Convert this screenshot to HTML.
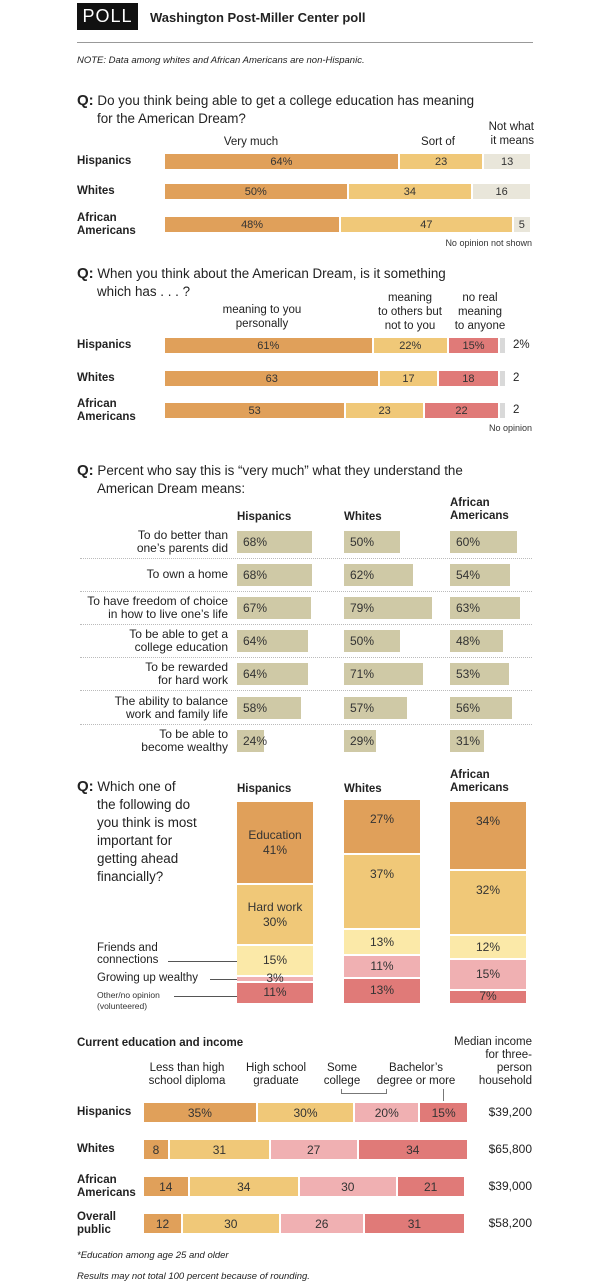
<!DOCTYPE html>
<html><head><meta charset="utf-8">
<style>
body{margin:0;width:606px;height:1287px;background:#fff;position:relative;overflow:hidden;font-family:"Liberation Sans",sans-serif;color:#222}
.a{position:absolute;white-space:nowrap}
.q{font-size:13.4px;line-height:18px}
.q b{font-size:15px}
.lab{font-size:11.5px;font-weight:bold;line-height:13px}
.hd{font-size:11.5px;line-height:14px;text-align:center}
.sm{font-size:9px;color:#333}
.bar{position:absolute;font-size:11px;color:#333;display:flex;align-items:center;justify-content:center;box-sizing:border-box}
.dot{position:absolute;left:80px;width:452px;border-top:1px dotted #bbb;height:0}
</style></head><body>
<div class="a" style="left:77px;top:3px;width:61px;height:27px;background:#111;color:#fff;font-size:18px;line-height:27px;text-align:center;letter-spacing:1px">POLL</div>
<div class="a" style="left:150px;top:10px;font-size:13px;font-weight:bold">Washington Post-Miller Center poll</div>
<div class="a" style="left:77px;top:42px;width:456px;height:1px;background:#999"></div>
<div class="a" style="left:77px;top:55px;font-size:9.5px;font-style:italic">NOTE: Data among whites and African Americans are non-Hispanic.</div>

<div class="a q" style="left:77px;top:92px"><b>Q:</b> Do you think being able to get a college education has meaning<br><span style="padding-left:20px">for the American Dream?</span></div>
<div class="a hd" style="left:211px;top:135px;width:80px">Very much</div>
<div class="a hd" style="left:408px;top:135px;width:60px">Sort of</div>
<div class="a hd" style="left:472px;top:120px;width:62px;text-align:right">Not what<br>it means</div>
<div class="a sm" style="right:74px;top:238px">No opinion not shown</div>

<div class="a q" style="left:77px;top:265px"><b>Q:</b> When you think about the American Dream, is it something<br><span style="padding-left:20px">which has . . . ?</span></div>
<div class="a hd" style="left:202px;top:303px;width:120px">meaning to you<br>personally</div>
<div class="a hd" style="left:362px;top:291px;width:96px">meaning<br>to others but<br>not to you</div>
<div class="a hd" style="left:440px;top:291px;width:80px">no real<br>meaning<br>to anyone</div>
<div class="a sm" style="right:74px;top:423px">No opinion</div>

<div class="a q" style="left:77px;top:462px"><b>Q:</b> Percent who say this is “very much” what they understand the<br><span style="padding-left:20px">American Dream means:</span></div>

<div class="a q" style="left:77px;top:778px"><b>Q:</b> Which one of<br><span style="padding-left:20px">the following do</span><br><span style="padding-left:20px">you think is most</span><br><span style="padding-left:20px">important for</span><br><span style="padding-left:20px">getting ahead</span><br><span style="padding-left:20px">financially?</span></div>
<div class="a" style="left:97px;top:942px;font-size:11.5px;line-height:12px">Friends and<br>connections</div>
<div class="a" style="left:97px;top:972px;font-size:11.5px">Growing up wealthy</div>
<div class="a sm" style="left:97px;top:990px;font-size:8.5px;line-height:11px">Other/no opinion<br>(volunteered)</div>
<div class="a" style="left:168px;top:961px;width:69px;height:1px;background:#555"></div>
<div class="a" style="left:210px;top:979px;width:27px;height:1px;background:#555"></div>
<div class="a" style="left:174px;top:996px;width:63px;height:1px;background:#555"></div>

<div class="a" style="left:77px;top:1037px;font-size:11.5px;font-weight:bold">Current education and income</div>
<div class="a hd" style="left:432px;top:1036px;width:100px;text-align:right;line-height:13px">Median income<br>for three-<br>person<br>household</div>
<div class="a hd" style="left:132px;top:1062px;width:110px;line-height:13px">Less than high<br>school diploma</div>
<div class="a hd" style="left:236px;top:1062px;width:80px;line-height:13px">High school<br>graduate</div>
<div class="a hd" style="left:312px;top:1062px;width:60px;line-height:13px">Some<br>college</div>
<div class="a hd" style="left:366px;top:1062px;width:100px;line-height:13px">Bachelor’s<br>degree or more</div>
<div class="a" style="left:341px;top:1089px;width:46px;height:5px;border-left:1px solid #777;border-bottom:1px solid #777;border-right:1px solid #777;box-sizing:border-box"></div>
<div class="a" style="left:443px;top:1089px;width:1px;height:12px;background:#777"></div>
<div class="a" style="left:77px;top:1250px;font-size:9.5px;font-style:italic">*Education among age 25 and older</div>
<div class="a" style="left:77px;top:1271px;font-size:9.5px;font-style:italic">Results may not total 100 percent because of rounding.</div>

<script>
const groups1=["Hispanics","Whites","African Americans"];
const q1Very=[64,50,48];
const q1Sort=[23,34,47];
const q1Not=[13,16,5];
const q1Labels=[["64%","23","13"],["50%","34","16"],["48%","47","5"]];
const q2Personal=[61,63,53];
const q2Others=[22,17,23];
const q2None=[15,18,22];
const q2NoOp=[2,2,2];
const q2Labels=[["61%","22%","15%","2%"],["63","17","18","2"],["53","23","22","2"]];
const q3Items=["To do better than|one’s parents did","To own a home","To have freedom of choice|in how to live one’s life","To be able to get a|college education","To be rewarded|for hard work","The ability to balance|work and family life","To be able to|become wealthy"];
const q3Hisp=[68,68,67,64,64,58,24];
const q3White=[50,62,79,50,71,57,29];
const q3AA=[60,54,63,48,53,56,31];
const q4Cats=["Education","Hard work","Friends and connections","Growing up wealthy","Other/no opinion"];
const q4Hisp=[41,30,15,3,11];
const q4White=[27,37,13,11,13];
const q4AA=[34,32,12,15,7];
const q5Groups=["Hispanics","Whites","African Americans","Overall public"];
const q5Less=[35,8,14,12];
const q5HS=[30,31,34,30];
const q5Some=[20,27,30,26];
const q5BA=[15,34,21,31];
const q5Income=["$39,200","$65,800","$39,000","$58,200"];

const B=document.body;
function mk(cls){const d=document.createElement('div');d.className=cls;B.appendChild(d);return d;}
function st(d,o){for(const k in o)d.style[k]=o[k];}
function lbl(name,y,h){const d=mk('a lab');


const two=name.split(' ');st(d,{left:'77px',top:(y+h/2-(two.length>1?13:6.5))+'px'});d.innerHTML=two.join('<br>');}

// Q1
const c1=['#e0a05a','#f0c878','#e9e6da'];
const x1=v=>v*3.67;
const y1=[154,184,217];
groups1.forEach((g,i)=>{lbl(g,y1[i],15);let x=165;[q1Very[i],q1Sort[i],q1Not[i]].forEach((v,j)=>{const d=mk('bar');


st(d,{left:x+'px',top:y1[i]+'px',width:(x1(v)-2)+'px',height:'15px',background:c1[j]});d.textContent=q1Labels[i][j];x+=x1(v);});});

// Q2
const c2=['#e0a05a','#f0c878','#e07a78','#d9d9d9'];
const x2=v=>v*3.42;
const y2=[338,371,403];
groups1.forEach((g,i)=>{lbl(g,y2[i],15);let x=165;[q2Personal[i],q2Others[i],q2None[i],q2NoOp[i]].forEach((v,j)=>{const d=mk('bar');


st(d,{left:x+'px',top:y2[i]+'px',width:(x2(v)-2)+'px',height:'15px',background:c2[j]});if(j<3)d.textContent=q2Labels[i][j];x+=x2(v);});
const t=mk('a');


st(t,{left:(x+6)+'px',top:(y2[i]+1)+'px',fontSize:'11.5px'});t.textContent=q2Labels[i][3];});

// Q3
const hx=[237,344,450];
["Hispanics","Whites","African Americans"].forEach((g,k)=>{const d=mk('a lab');


st(d,{left:hx[k]+'px',top:(k==2?497:511)+'px'});d.innerHTML=g.replace(' ','<br>');});
const x3=v=>v*1.11;
q3Items.forEach((it,r)=>{const yc=542+r*33.1;const d=mk('a');


const parts=it.split('|');st(d,{right:(606-228)+'px',top:(yc-(parts.length>1?13:7))+'px',fontSize:'12px',lineHeight:'13px',textAlign:'right'});d.innerHTML=parts.join('<br>');
[q3Hisp,q3White,q3AA].forEach((arr,k)=>{const b=mk('bar');


st(b,{left:hx[k]+'px',top:(yc-11)+'px',width:x3(arr[r])+'px',height:'22px',background:'#cfc9a6',justifyContent:'flex-start',paddingLeft:'6px',fontSize:'12px'});b.textContent=arr[r]+'%';});
if(r<q3Items.length-1){const l=mk('dot');


st(l,{top:(yc+16)+'px'});}});

// Q4
const c4=['#e0a05a','#f0c878','#fbe9a8','#f0b0b2','#e07a78'];
const y4=v=>v*2.03;
["Hispanics","Whites","African Americans"].forEach((g,k)=>{const d=mk('a lab');


st(d,{left:hx[k]+'px',top:(k==2?769:783)+'px'});d.innerHTML=g.replace(' ','<br>');});
[q4Hisp,q4White,q4AA].forEach((arr,k)=>{const tot=arr.reduce((a,b)=>a+b,0);let y=1005-y4(tot);arr.forEach((v,j)=>{const b=mk('bar');


const h=y4(v);st(b,{left:hx[k]+'px',top:y+'px',width:'76px',height:(h-2)+'px',background:c4[j],fontSize:'12px',textAlign:'center',lineHeight:'15px'});
b.innerHTML=(k==0&&j<2?q4Cats[j]+'<br>':'')+v+'%';
if(v<5)st(b,{overflow:'visible'});
if(k>0&&j<2)st(b,{alignItems:'flex-start',paddingTop:'12px'});
y+=h;});});

// Q5
const c5=['#e0a05a','#f0c878','#f0b0b2','#e07a78'];
const x5=v=>v*3.25;
const yy5=[1103,1140,1177,1214];
q5Groups.forEach((g,i)=>{lbl(g,yy5[i],19);let x=144;[q5Less[i],q5HS[i],q5Some[i],q5BA[i]].forEach((v,j)=>{const b=mk('bar');


st(b,{left:x+'px',top:yy5[i]+'px',width:(x5(v)-2)+'px',height:'19px',background:c5[j],fontSize:'12px'});b.textContent=v+(i==0?'%':'');x+=x5(v);});
const t=mk('a');


st(t,{right:'74px',top:(yy5[i]+2)+'px',fontSize:'12px'});t.textContent=q5Income[i];});
</script>
</body></html>
